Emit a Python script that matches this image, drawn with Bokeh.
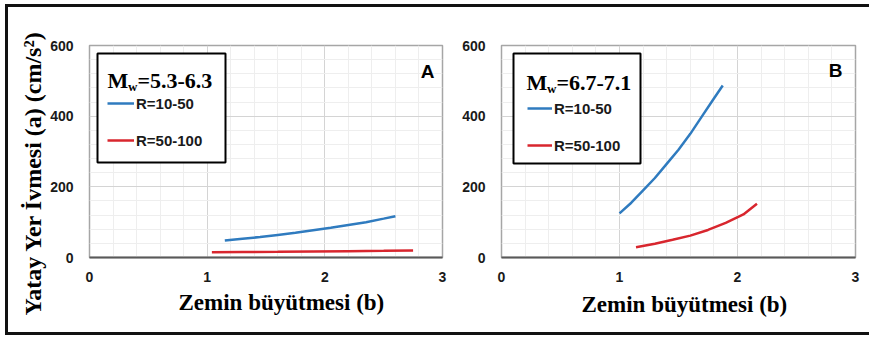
import math
from bokeh.plotting import figure
from bokeh.layouts import row
from bokeh.models import (Label, BoxAnnotation, Legend, LegendItem, FixedTicker, Range1d, Title)
from bokeh.embed import file_html
from bokeh.resources import INLINE

# ---------------- data ----------------
x_ticks = [0, 1, 2, 3]
y_ticks = [0, 200, 400, 600]
x_minor = [0.2, 0.4, 0.6, 0.8, 1.2, 1.4, 1.6, 1.8, 2.2, 2.4, 2.6, 2.8]
y_minor = [40, 80, 120, 160, 240, 280, 320, 360, 440, 480, 520, 560]

series_labels = ["R=10-50", "R=50-100"]

# Panel A : Mw = 5.3-6.3
a_blue_x = [1.15, 1.30, 1.45, 1.60, 1.75, 1.90, 2.05, 2.20, 2.35, 2.50, 2.60]
a_blue_y = [48, 53, 58, 64, 70, 77, 84, 92, 100, 110, 117]
a_red_x = [1.04, 1.30, 1.60, 1.90, 2.20, 2.50, 2.75]
a_red_y = [15, 15.5, 16, 17, 18, 19, 20]

# Panel B : Mw = 6.7-7.1
b_blue_x = [1.00, 1.10, 1.20, 1.30, 1.40, 1.50, 1.60, 1.70, 1.80, 1.875]
b_blue_y = [125, 155, 190, 225, 265, 305, 350, 400, 450, 487]
b_red_x = [1.14, 1.30, 1.45, 1.60, 1.75, 1.90, 2.05, 2.165]
b_red_y = [29, 39, 50, 62, 78, 98, 122, 152]

panel_letters = ["A", "B"]
mw_ranges = ["=5.3-6.3", "=6.7-7.1"]
x_title = "Zemin büyütmesi (b)"
y_title = "Yatay Yer İvmesi (a) (cm/s²)"

BLUE = "#2f7bbf"
RED = "#d8262e"
SANS = "Liberation Sans"
SERIF = "Liberation Serif"


def make_panel(width, bl, br, bx, by, rx, ry, letter, mw, show_ylabel,
               legend_box, legend_loc, glyph_w, title_pos, letter_pos, xlab_offset, xlab_standoff):
    p = figure(width=width, height=325, output_backend="svg", toolbar_location=None,
               x_range=Range1d(0, 3), y_range=Range1d(0, 600),
               min_border_left=bl, min_border_right=br, min_border_top=38, min_border_bottom=75,
               background_fill_color="white", border_fill_color="white")
    p.outline_line_color = "#a6a6a6"
    p.outline_line_width = 1.5

    p.xaxis.ticker = FixedTicker(ticks=x_ticks, minor_ticks=x_minor)
    p.yaxis.ticker = FixedTicker(ticks=y_ticks, minor_ticks=y_minor)
    for ax in (p.xaxis[0], p.yaxis[0]):
        ax.major_tick_line_color = None
        ax.minor_tick_line_color = None
        ax.major_tick_out = 0
        ax.major_tick_in = 0
        ax.minor_tick_out = 0
        ax.major_label_text_font = SANS
        ax.major_label_text_font_style = "bold"
        ax.major_label_text_font_size = "14px"
        ax.major_label_text_color = "#1a1a1a"
    p.xaxis.axis_line_color = "#595959"
    p.xaxis.axis_line_width = 2
    p.yaxis.axis_line_color = None
    p.xaxis.major_label_standoff = 14
    p.yaxis.major_label_standoff = 16

    p.xgrid.grid_line_color = "#d4d4d4"
    p.ygrid.grid_line_color = "#d4d4d4"
    p.xgrid.minor_grid_line_color = "#eeeeee"
    p.ygrid.minor_grid_line_color = "#eeeeee"

    rb = p.line(bx, by, line_color=BLUE, line_width=2.5)
    rr = p.line(rx, ry, line_color=RED, line_width=2.5)

    # legend box
    l, r, t, b = legend_box
    p.add_layout(BoxAnnotation(left=l, right=r, top=t, bottom=b,
                               left_units="screen", right_units="screen",
                               top_units="screen", bottom_units="screen",
                               fill_color="white", fill_alpha=1.0,
                               line_color="black", line_width=2, line_alpha=1.0))

    legend = Legend(items=[LegendItem(label=series_labels[0], renderers=[rb]),
                           LegendItem(label=series_labels[1], renderers=[rr])],
                    location=legend_loc, orientation="vertical",
                    glyph_width=glyph_w, glyph_height=20, label_height=20,
                    label_standoff=2, spacing=17, padding=0, margin=0,
                    border_line_alpha=0, background_fill_alpha=0,
                    label_text_font=SANS, label_text_font_style="bold",
                    label_text_font_size="15px", label_text_color="#1a1a1a")
    p.add_layout(legend)

    tx, ty = title_pos
    p.add_layout(Label(x=tx, y=ty, x_units="screen", y_units="screen", text="M",
                       text_font=SERIF, text_font_style="bold", text_font_size="22px",
                       text_align="left", text_baseline="alphabetic", text_color="black"))
    p.add_layout(Label(x=tx + 20.5, y=ty - 6, x_units="screen", y_units="screen", text="w",
                       text_font=SERIF, text_font_style="bold", text_font_size="13px",
                       text_align="left", text_baseline="alphabetic", text_color="black"))
    p.add_layout(Label(x=tx + 30, y=ty, x_units="screen", y_units="screen", text=mw,
                       text_font=SERIF, text_font_style="bold", text_font_size="22px",
                       text_align="left", text_baseline="alphabetic", text_color="black"))

    lx, ly = letter_pos
    p.add_layout(Label(x=lx, y=ly, x_units="screen", y_units="screen", text=letter,
                       text_font=SANS, text_font_style="bold", text_font_size="19px",
                       text_align="center", text_baseline="middle", text_color="black"))

    p.add_layout(Title(text=x_title, align="left", offset=xlab_offset,
                       text_font=SERIF, text_font_style="bold", text_font_size="23px",
                       text_color="black", standoff=xlab_standoff), "below")
    if show_ylabel:
        p.add_layout(Title(text=y_title, align="left", offset=-58,
                           text_font=SERIF, text_font_style="bold", text_font_size="24px",
                           text_color="black", standoff=4), "left")
    return p


pA = make_panel(447, 81, 13, a_blue_x, a_blue_y, a_red_x, a_red_y,
                panel_letters[0], mw_ranges[0], True,
                legend_box=(8, 136, 204, 95), legend_loc=(18, 107), glyph_w=27,
                title_pos=(18, 177), letter_pos=(338, 186), xlab_offset=89, xlab_standoff=6)
pB = make_panel(414, 46, 14, b_blue_x, b_blue_y, b_red_x, b_red_y,
                panel_letters[1], mw_ranges[1], False,
                legend_box=(12, 139, 204, 94), legend_loc=(26, 102), glyph_w=25,
                title_pos=(25, 175), letter_pos=(334, 187), xlab_offset=80, xlab_standoff=10)

layout = row(pA, pB, styles={"border-left": "3px solid #111", "border-top": "3px solid #111",
                             "border-bottom": "3px solid #111",
                             "margin-left": "5px", "margin-top": "4px"})

open("out.html", "w").write(file_html(layout, INLINE))
